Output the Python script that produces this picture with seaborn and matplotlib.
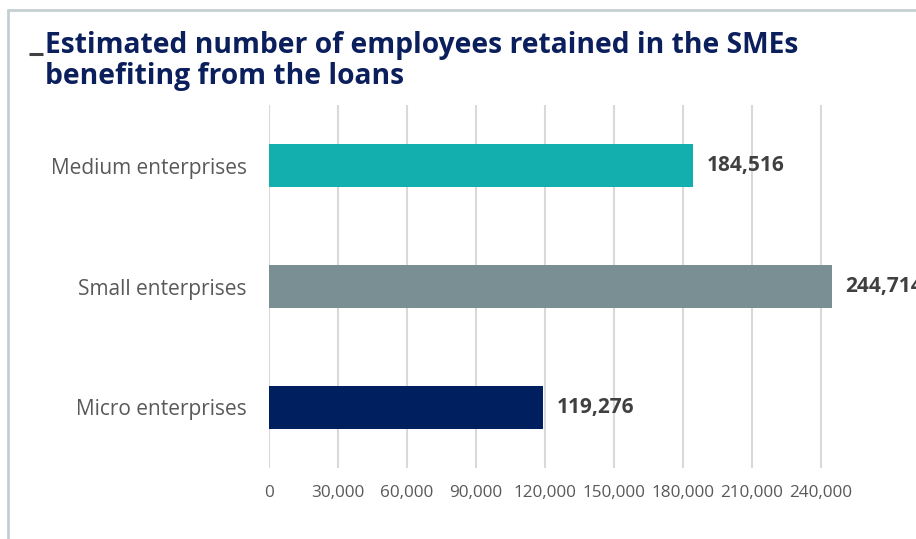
import matplotlib
matplotlib.use("Agg")
import matplotlib.pyplot as plt
from matplotlib.lines import Line2D
from matplotlib.ticker import FixedLocator, FuncFormatter
import seaborn as sns
import pandas as pd

categories = ["Medium enterprises", "Small enterprises", "Micro enterprises"]
employees = [184516, 244714, 119276]
bar_colors = ["#12AFAE", "#7A8F93", "#001F5F"]
x_ticks = [0, 30000, 60000, 90000, 120000, 150000, 180000, 210000, 240000]

df = pd.DataFrame({"category": categories, "employees": employees})

sns.set_theme(style="white")
plt.rcParams["font.family"] = ["Open Sans", "DejaVu Sans"]

fig = plt.figure(figsize=(9.16, 5.39), dpi=100)
ax = fig.add_axes([269 / 916, 1 - 468 / 539, (844 - 269) / 916, (468 - 105) / 539])

sns.barplot(data=df, x="employees", y="category", hue="category",
            palette=bar_colors, orient="h", width=0.35, ax=ax,
            legend=False, saturation=1, linewidth=0)

ax.set_xlim(0, 250000)
ax.set_ylim(2.5, -0.5)
ax.xaxis.set_major_locator(FixedLocator(x_ticks))
ax.xaxis.set_major_formatter(FuncFormatter(lambda v, p: f"{int(v):,}"))
ax.grid(axis="x", color="#D9D9D9", linewidth=1.5)
ax.set_axisbelow(True)
for s in ax.spines.values():
    s.set_visible(False)
ax.set_xlabel("")
ax.set_ylabel("")
ax.tick_params(axis="x", length=0, pad=12, labelsize=12.3, labelcolor="#595959")
ax.tick_params(axis="y", length=0, pad=16, labelsize=15, labelcolor="#595959")

for i, v in enumerate(employees):
    ax.text(v + 6000, i, f"{v:,}", va="center", ha="left", fontsize=15,
            fontweight="bold", color="#404040", clip_on=False)

# Title with its leading dash
fig.add_artist(Line2D([29 / 916, 43 / 916], [1 - 54 / 539, 1 - 54 / 539],
                      transform=fig.transFigure, color="#404040", linewidth=2.2,
                      solid_capstyle="butt"))
fig.text(45 / 916, 1 - 61 / 539,
         "Estimated number of employees retained in the SMEs\nbenefiting from the loans",
         fontsize=20.3, fontweight="bold", color="#0B1F5C", va="center", ha="left",
         linespacing=1.12)

# Frame around the panel
fig.add_artist(Line2D([8 / 916, 1], [1 - 10 / 539, 1 - 10 / 539],
                      transform=fig.transFigure, color="#C5CFD3", linewidth=2))
fig.add_artist(Line2D([8 / 916, 8 / 916], [0, 1 - 10 / 539],
                      transform=fig.transFigure, color="#C5CFD3", linewidth=2))

fig.savefig("out.png", dpi=100)
